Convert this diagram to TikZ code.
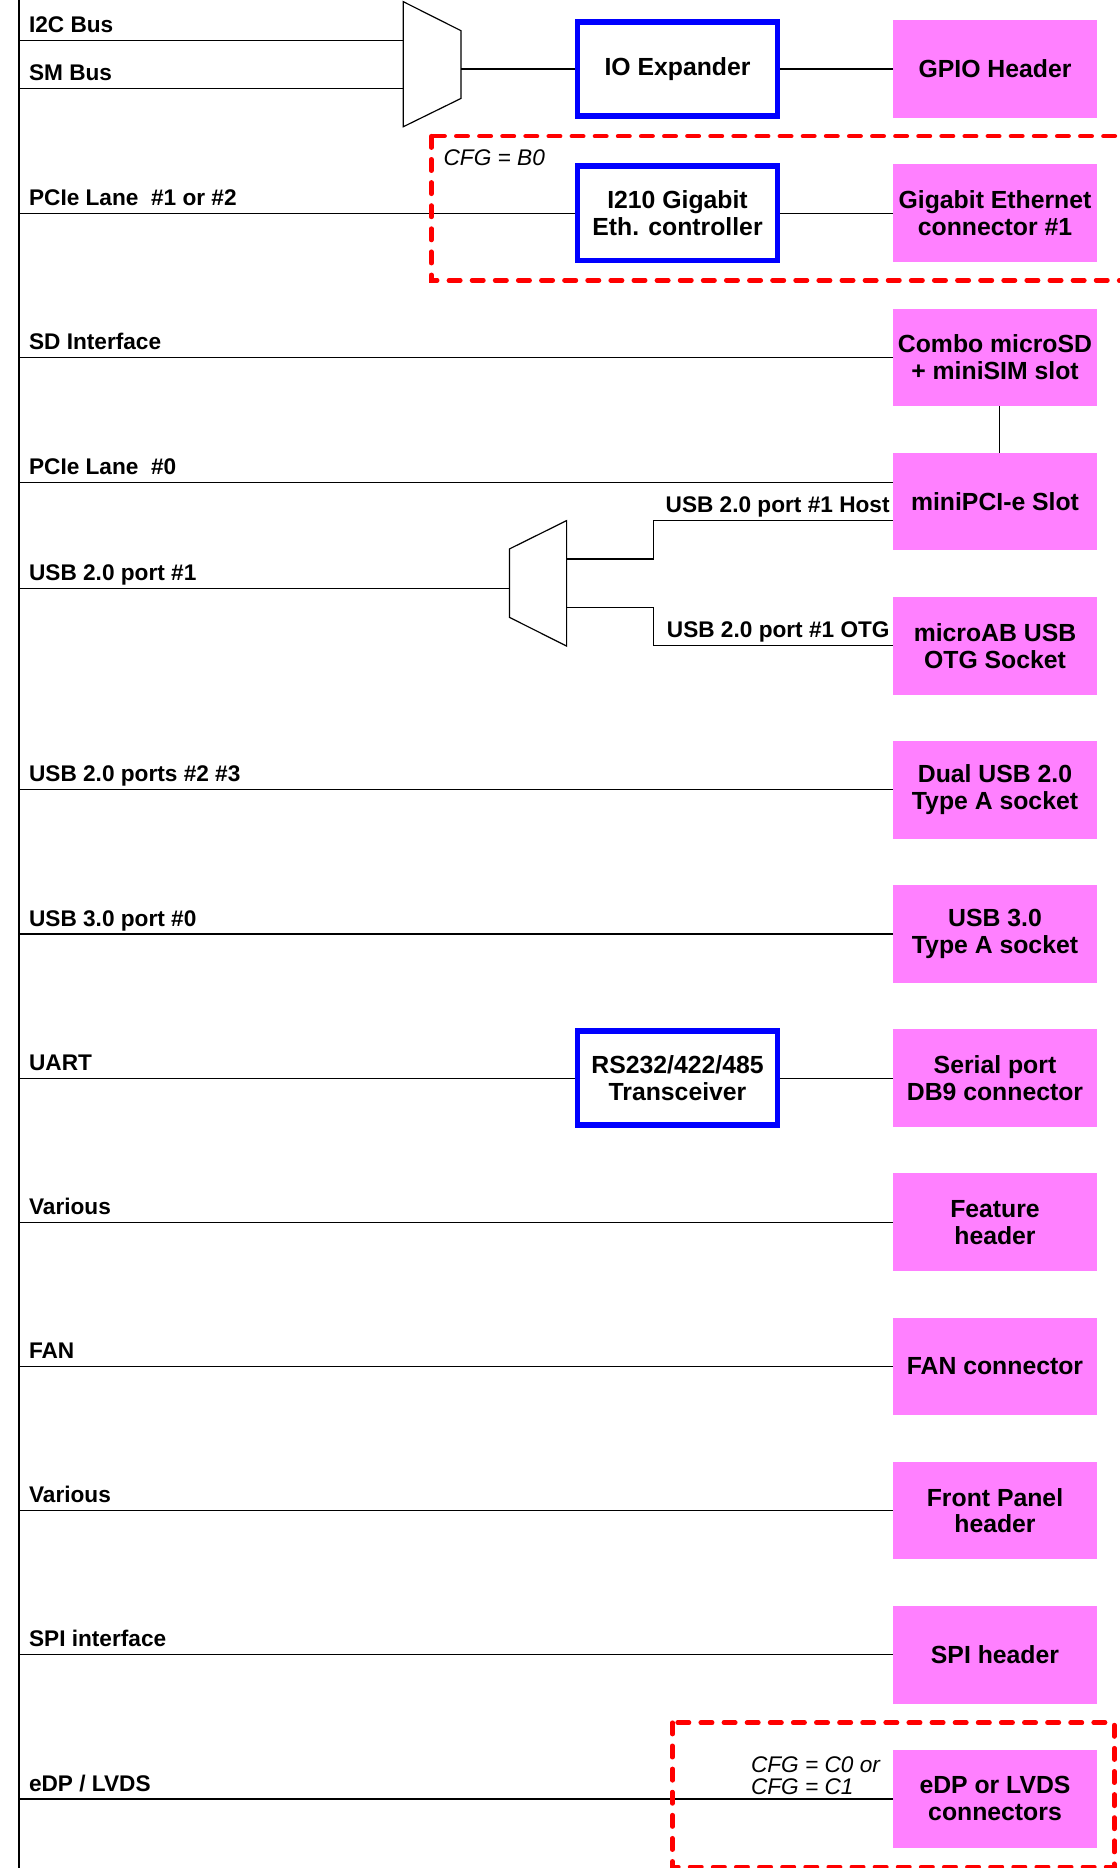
\documentclass[tikz,border=0pt]{standalone}
\usepackage{fontspec}
\setmainfont{Liberation Sans}
\usepackage{xcolor}
\usepackage{tikz}
\usetikzlibrary{positioning}
\definecolor{connpink}{RGB}{255,128,255}
\definecolor{chipblue}{RGB}{0,0,255}
\definecolor{cfgred}{RGB}{255,0,0}
\newcommand{\boxfont}{\fontsize{10.4}{11.3}\selectfont\bfseries}
\newcommand{\sigfont}{\fontsize{9.5}{11}\selectfont\bfseries}
\newcommand{\cfgfont}{\fontsize{9.5}{9.5}\selectfont\itshape}

\begin{document}
\begin{tikzpicture}[x=0.5pt, y=-0.5pt,
		conn/.style={fill=connpink, align=center, minimum width=85.5pt, minimum height=41pt, inner sep=0pt, outer sep=0pt, font=\boxfont},
		chip/.style={draw=chipblue, line width=2.3pt, align=center, minimum width=84pt, minimum height=39.5pt, inner sep=0pt, font=\boxfont},
		sig/.style={anchor=base west, inner sep=0pt, font=\sigfont},
		cfgtxt/.style={inner sep=0pt, font=\cfgfont},
		cfgbox/.style={draw=cfgred, line width=1.9pt, dash pattern=on 4.8pt off 4.9pt, line cap=round},
		wire/.style={line width=0.5pt}]
		\useasboundingbox (0,0) rectangle (940,1568);
		\coordinate (bustop) at (16,0);
		\coordinate (busbot) at (16,1568);
		\node[conn] (gpio) at (835.2,58) {GPIO Header};
		\node[conn, below=19.5pt of gpio] (gbe) {Gigabit Ethernet\\connector \#1};
		\node[conn, below=19.5pt of gbe] (sdslot) {Combo microSD\\+ miniSIM slot};
		\node[conn, below=19.5pt of sdslot] (minipcie) {miniPCI-e Slot};
		\node[conn, below=19.5pt of minipcie] (otg) {microAB USB\\OTG Socket};
		\node[conn, below=19.5pt of otg] (dualusb) {Dual USB 2.0\\Type A socket};
		\node[conn, below=19.5pt of dualusb] (usbthree) {USB 3.0\\Type A socket};
		\node[conn, below=19.5pt of usbthree] (serial) {Serial port\\DB9 connector};
		\node[conn, below=19.5pt of serial] (feature) {Feature\\header};
		\node[conn, below=19.5pt of feature] (fan) {FAN connector};
		\node[conn, below=19.5pt of fan] (front) {Front Panel\\header};
		\node[conn, below=19.5pt of front] (spi) {SPI header};
		\node[conn, below=19.5pt of spi] (edp) {eDP or LVDS\\connectors};
		\node[chip, left=47.35pt of gpio] (ioexp) {IO Expander};
		\node[chip, left=47.35pt of gbe] (igb) {I210 Gigabit\\Eth. controller};
		\node[chip, left=47.35pt of serial] (xcvr) {RS232/422/485\\Transceiver};

		\path[draw, wire] (bustop) -- (busbot);

		\coordinate (muxi2c) at (338.5,34);
		\coordinate (muxsm) at (338.5,74);
		\coordinate (muxout) at (387,58);
		\path[draw, wire] (338.5,1.4) -- (387,25.8) -- (387,82.6) -- (338.5,106.4) -- cycle;
		\path[draw, wire] (muxi2c -| bustop) -- (muxi2c);
		\path[draw, wire] (muxsm -| bustop) -- (muxsm);
		\node[sig] at ([xshift=4pt, yshift=3.3pt]muxi2c -| bustop) {I2C Bus};
		\node[sig] at ([xshift=4pt, yshift=3.3pt]muxsm -| bustop) {SM Bus};
		\path[draw, wire] (muxout) -- (ioexp.west);
		\path[draw, wire] (ioexp) -- (gpio);

		\path[draw, wire] (igb.west -| bustop) -- (igb.west);
		\path[draw, wire] (igb) -- (gbe);
		\node[sig] at ([xshift=4pt, yshift=3.3pt]igb.west -| bustop) {PCIe Lane\ \ \#1 or \#2};
		\path[cfgbox] (362,114.3) rectangle (945,235.3);
		\node[cfgtxt, anchor=base west] at (372,139) {CFG = B0};

		\path[draw, wire] (sdslot.west -| bustop) -- (sdslot.west);
		\node[sig] at ([xshift=4pt, yshift=3.3pt]sdslot.west -| bustop) {SD Interface};
		\path[draw, wire] ([xshift=2pt]sdslot.south) -- ([xshift=2pt]minipcie.north);

		\coordinate (pcizero) at (minipcie.west |- 0,405);
		\path[draw, wire] (pcizero -| bustop) -- (pcizero);
		\node[sig] at ([xshift=4pt, yshift=3.3pt]pcizero -| bustop) {PCIe Lane\ \ \#0};

		\coordinate (demuxin) at (427.6,494);
		\coordinate (demuxhost) at (475.6,469.2);
		\coordinate (demuxotg) at (475.6,509.8);
		\coordinate (hostend) at (minipcie.west |- 0,437);
		\path[draw, wire] (427.6,460.8) -- (475.6,437) -- (475.6,542.3) -- (427.6,518.2) -- cycle;
		\path[draw, wire] (demuxin -| bustop) -- (demuxin);
		\node[sig] at ([xshift=4pt, yshift=3.3pt]demuxin -| bustop) {USB 2.0 port \#1};
		\path[draw, wire] (demuxhost) -- (548.3,469.2) -- (548.3,437) -- (hostend);
		\path[draw, wire] (demuxotg) -- (548.3,509.8) -- (548.3,542) -- (otg.west);
		\node[sig, anchor=base east] at ([xshift=-1.3pt, yshift=3.5pt]hostend) {USB 2.0 port \#1 Host};
		\node[sig, anchor=base east] at ([xshift=-1.3pt, yshift=3.5pt]otg.west) {USB 2.0 port \#1 OTG};

		\path[draw, wire] (dualusb.west -| bustop) -- (dualusb.west);
		\node[sig] at ([xshift=4pt, yshift=3.3pt]dualusb.west -| bustop) {USB 2.0 ports \#2 \#3};

		\path[draw, wire] (usbthree.west -| bustop) -- (usbthree.west);
		\node[sig] at ([xshift=4pt, yshift=3.3pt]usbthree.west -| bustop) {USB 3.0 port \#0};

		\path[draw, wire] (xcvr.west -| bustop) -- (xcvr.west);
		\path[draw, wire] (xcvr) -- (serial);
		\node[sig] at ([xshift=4pt, yshift=3.3pt]xcvr.west -| bustop) {UART};

		\path[draw, wire] (feature.west -| bustop) -- (feature.west);
		\node[sig] at ([xshift=4pt, yshift=3.3pt]feature.west -| bustop) {Various};

		\path[draw, wire] (fan.west -| bustop) -- (fan.west);
		\node[sig] at ([xshift=4pt, yshift=3.3pt]fan.west -| bustop) {FAN};

		\path[draw, wire] (front.west -| bustop) -- (front.west);
		\node[sig] at ([xshift=4pt, yshift=3.3pt]front.west -| bustop) {Various};

		\path[draw, wire] (spi.west -| bustop) -- (spi.west);
		\node[sig] at ([xshift=4pt, yshift=3.3pt]spi.west -| bustop) {SPI interface};

		\path[draw, wire] (edp.west -| bustop) -- (edp.west);
		\node[sig] at ([xshift=4pt, yshift=3.3pt]edp.west -| bustop) {eDP / LVDS};
		\path[cfgbox] (564.4,1446) rectangle (935.4,1567);
		\node[cfgtxt, align=left, anchor=north west] at (630,1474) {CFG = C0 or\\CFG = C1};
	\end{tikzpicture}
\end{document}
